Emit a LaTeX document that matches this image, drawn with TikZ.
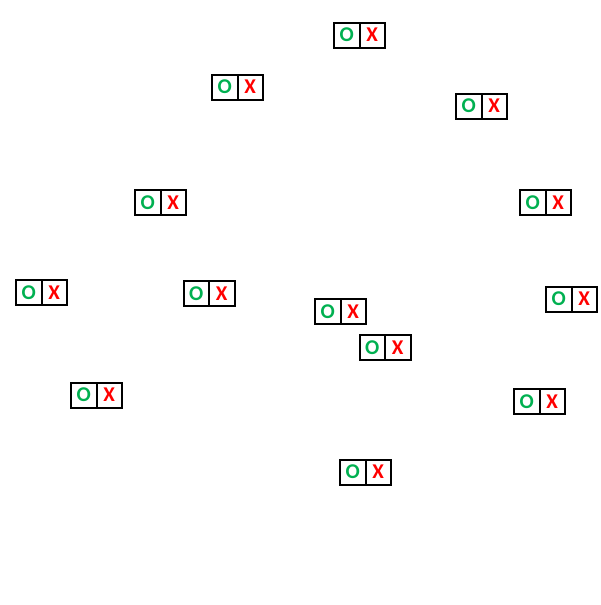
\documentclass[tikz,border=0pt]{standalone}
\usepackage{fontspec}
\setmainfont{Carlito}
\usepackage{xcolor}
\usetikzlibrary{positioning}
\definecolor{ogreen}{HTML}{00B050}
\definecolor{xred}{HTML}{FF0000}
\tikzset{
  cell/.style={draw, line width=2pt, inner sep=0pt, outer sep=0pt,
    minimum width=25.5pt, minimum height=25pt, font=\fontsize{21}{21}\selectfont\bfseries},
  ocell/.style={cell, text=ogreen},
  xcell/.style={cell, text=xred}
}
\begin{document}
\begin{tikzpicture}[x=1pt, y=-1pt]

    \useasboundingbox (0, 0) rectangle (600, 605);

    \foreach \n/\cx/\cy in {a/359.5/35, b/237.5/87, c/481.5/106, d/160.5/202.5,
        e/545.5/202.5, f/41.5/292.5, g/209/293.5, h/340.5/311.5, i/571.5/299,
        j/385/347.5, k/96.5/395, l/539.5/401.5, m/365.5/472} {
      \node[ocell] (o\n) at (\cx - 12.75, \cy) {O};
      \node[xcell, right=0pt of o\n] (x\n) {X};
    }

  \end{tikzpicture}
\end{document}
